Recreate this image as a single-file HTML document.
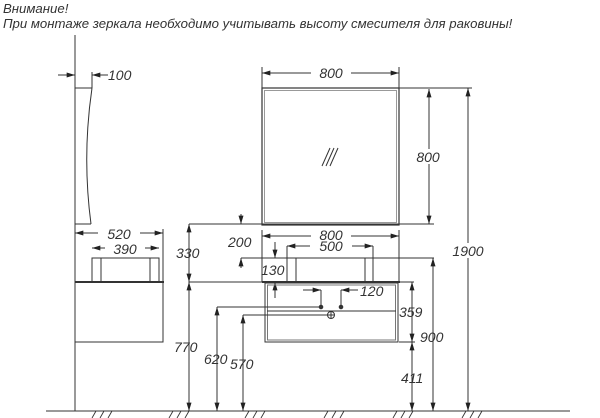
<!DOCTYPE html>
<html><head><meta charset="utf-8"><style>
html,body{margin:0;padding:0;background:#fff;}
svg{display:block}
text{font-family:"Liberation Sans",sans-serif;font-style:italic;fill:#333;}
</style></head><body>
<svg width="600" height="418" viewBox="0 0 600 418" xmlns="http://www.w3.org/2000/svg">
<defs>
<marker id="a" viewBox="0 0 10 6" refX="10" refY="3" markerWidth="9" markerHeight="5" orient="auto-start-reverse" markerUnits="userSpaceOnUse"><path d="M0,0 L10,3 L0,6z" fill="#222"/></marker>
</defs>
<text x="3" y="13" font-size="13.2">Внимание!</text>
<text x="3" y="28" font-size="13.2">При монтаже зеркала необходимо учитывать высоту смесителя для раковины!</text>

<g stroke="#333" stroke-width="1" fill="none">
<line x1="75" y1="35" x2="75" y2="411"/>
<line x1="75" y1="88" x2="92" y2="88"/>
<path d="M92,88 Q82,156 91,224"/>
<line x1="75" y1="224" x2="91" y2="224"/>
<line x1="92" y1="88" x2="92" y2="72"/>
<line x1="58" y1="75" x2="75" y2="75" marker-end="url(#a)"/>
<line x1="108" y1="75" x2="92" y2="75" marker-end="url(#a)"/>
<line x1="75" y1="233" x2="163" y2="233" marker-start="url(#a)" marker-end="url(#a)"/>
<line x1="163" y1="229" x2="163" y2="282"/>
<line x1="92" y1="248" x2="159" y2="248" marker-start="url(#a)" marker-end="url(#a)"/>
<rect x="92" y="258" width="67" height="24"/>
<line x1="101" y1="258" x2="101" y2="282"/>
<line x1="150" y1="258" x2="150" y2="282"/>
<line x1="75" y1="282" x2="164" y2="282" stroke-width="2"/>
<rect x="75" y="282" width="88" height="60"/>

<rect x="262" y="88" width="137" height="137" stroke-width="1.2"/>
<rect x="264.5" y="90.5" width="132" height="132" stroke="#999"/>
<line x1="262" y1="88" x2="262" y2="67"/>
<line x1="399" y1="88" x2="399" y2="67"/>
<line x1="262" y1="73" x2="399" y2="73" marker-start="url(#a)" marker-end="url(#a)"/>
<line x1="399" y1="88" x2="472" y2="88"/>
<line x1="189" y1="224" x2="434" y2="224"/>
<line x1="429" y1="89" x2="429" y2="224" marker-start="url(#a)" marker-end="url(#a)"/>
<line x1="322" y1="166" x2="330" y2="148"/>
<line x1="326" y1="166" x2="334" y2="148"/>
<line x1="330" y1="166" x2="338" y2="148"/>
<line x1="468" y1="88" x2="468" y2="411" marker-start="url(#a)" marker-end="url(#a)"/>

<line x1="262" y1="230" x2="262" y2="282"/>
<line x1="399" y1="230" x2="399" y2="282"/>
<line x1="262" y1="236" x2="399" y2="236" marker-start="url(#a)" marker-end="url(#a)"/>
<line x1="287" y1="246" x2="373" y2="246" marker-start="url(#a)" marker-end="url(#a)"/>
<line x1="287" y1="246" x2="287" y2="282"/>
<line x1="373" y1="246" x2="373" y2="282"/>
<line x1="296" y1="258" x2="296" y2="282"/>
<line x1="365" y1="258" x2="365" y2="282"/>
<line x1="241" y1="258" x2="434" y2="258"/>
<line x1="241" y1="214" x2="241" y2="224" marker-end="url(#a)"/>
<line x1="241" y1="268" x2="241" y2="258" marker-end="url(#a)"/>
<line x1="275" y1="242" x2="275" y2="258" marker-end="url(#a)"/>
<line x1="275" y1="298" x2="275" y2="282" marker-end="url(#a)"/>
<line x1="189" y1="282" x2="414" y2="282"/>
<line x1="262" y1="282" x2="400" y2="282" stroke-width="2"/>
<rect x="265" y="283" width="133" height="59"/>
<rect x="267.5" y="285" width="128" height="55" stroke="#777"/>
<line x1="267" y1="311" x2="396" y2="311"/>
<line x1="399" y1="342" x2="415" y2="342"/>
<line x1="321" y1="290" x2="321" y2="307"/>
<line x1="341" y1="290" x2="341" y2="307"/>
<line x1="303" y1="290" x2="321" y2="290" marker-end="url(#a)"/>
<line x1="358" y1="290" x2="341" y2="290" marker-end="url(#a)"/>
<circle cx="321" cy="307" r="1.8" fill="#333"/>
<circle cx="341" cy="307" r="1.8" fill="#333"/>
<circle cx="331" cy="315" r="3.5"/>
<line x1="327.5" y1="315" x2="334.5" y2="315"/>
<line x1="331" y1="311.5" x2="331" y2="318.5"/>
<line x1="217" y1="307" x2="321" y2="307"/>
<line x1="243" y1="315" x2="330" y2="315"/>

<line x1="189" y1="224" x2="189" y2="282" marker-start="url(#a)" marker-end="url(#a)"/>
<line x1="189" y1="282" x2="189" y2="411" marker-start="url(#a)" marker-end="url(#a)"/>
<line x1="217" y1="307" x2="217" y2="411" marker-start="url(#a)" marker-end="url(#a)"/>
<line x1="243" y1="315" x2="243" y2="411" marker-start="url(#a)" marker-end="url(#a)"/>
<line x1="412" y1="282" x2="412" y2="342" marker-start="url(#a)" marker-end="url(#a)"/>
<line x1="412" y1="342" x2="412" y2="411" marker-start="url(#a)" marker-end="url(#a)"/>
<line x1="433" y1="258" x2="433" y2="411" marker-start="url(#a)" marker-end="url(#a)"/>

<line x1="46" y1="411" x2="570" y2="411"/>
<g stroke-width="0.9">
<path d="M92,418 L96,411 M100,418 L104,411 M108,418 L112,411"/>
<path d="M169,418 L173,411 M177,418 L181,411 M185,418 L189,411"/>
<path d="M245,418 L249,411 M253,418 L257,411 M261,418 L265,411"/>
<path d="M324,418 L328,411 M332,418 L336,411 M340,418 L344,411"/>
<path d="M393,418 L397,411 M401,418 L405,411 M409,418 L413,411"/>
<path d="M462,418 L466,411 M470,418 L474,411 M478,418 L482,411"/>
</g>
</g>

<g font-size="14">
<text x="108" y="80">100</text>
<rect x="311" y="66" width="40" height="13" fill="#fff"/>
<text x="331" y="78" text-anchor="middle">800</text>
<rect x="408" y="149" width="40" height="15" fill="#fff"/>
<text x="428" y="162" text-anchor="middle">800</text>
<rect x="98" y="227" width="42" height="13" fill="#fff"/>
<text x="119" y="239" text-anchor="middle">520</text>
<rect x="105" y="242" width="40" height="13" fill="#fff"/>
<text x="125" y="254" text-anchor="middle">390</text>
<rect x="311" y="229" width="40" height="12" fill="#fff"/>
<text x="331" y="240" text-anchor="middle">800</text>
<rect x="310" y="240" width="42" height="12" fill="#fff"/>
<text x="331" y="251" text-anchor="middle">500</text>
<rect x="448" y="243" width="40" height="15" fill="#fff"/>
<text x="468" y="256" text-anchor="middle">1900</text>
<text x="176" y="258">330</text>
<text x="228" y="247">200</text>
<text x="261" y="275">130</text>
<text x="360" y="296">120</text>
<text x="399" y="317">359</text>
<text x="420" y="342">900</text>
<text x="401" y="383">411</text>
<text x="174" y="352">770</text>
<text x="204" y="364">620</text>
<text x="230" y="369">570</text>
</g>
</svg>
</body></html>
